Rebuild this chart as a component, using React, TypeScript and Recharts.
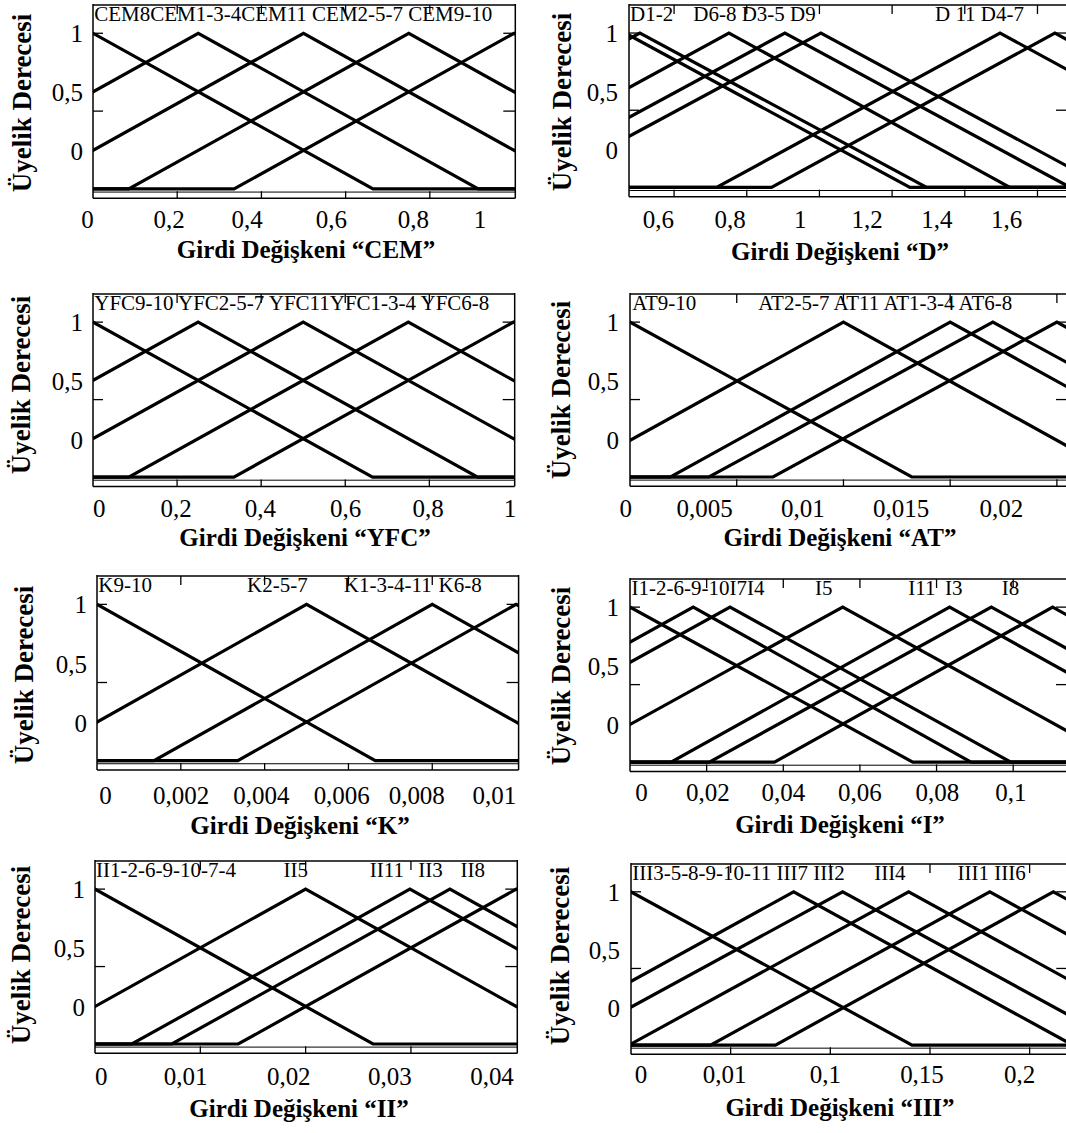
import React from 'react';
import { LineChart, Line, XAxis, YAxis, ReferenceLine } from 'recharts';

type Tri = [number, number, number];

// ---------- shared membership (y) axis ----------
const yDomain: [number, number] = [-0.06, 1.188];
const yTicks = [0, 0.5, 1];
const yTickLabels = ['1', '0,5', '0'];
const yTickLabelAt = [1, 0.62, 0.24];
const baseRuleY = -0.02;

// ---------- CEM ----------
const cemDomain: [number, number] = [0, 1.003];
const cemTicks = [0.2, 0.4, 0.6, 0.8];
const cemTickLabels = ['0', '0,2', '0,4', '0,6', '0,8', '1'];
const cemTickLabelAt = [-0.013, 0.181, 0.366, 0.566, 0.761, 0.919];
const cemSetNames = ['CEM8', 'CEM1-3-4', 'CEM11', 'CEM2-5-7', 'CEM9-10'];
const cemSets: Tri[] = [
  [-0.665, 0, 0.665],
  [-0.415, 0.25, 0.915],
  [-0.165, 0.5, 1.165],
  [0.085, 0.75, 1.415],
  [0.335, 1.0, 1.665],
];
const cemLegend = ['CEM8CEM1-3-4CEM11 CEM2-5-7 CEM9-10'];
const cemLegendAt = [0.003];

// ---------- D ----------
const dDomain: [number, number] = [0.476, 1.684];
const dTicks = [0.6, 0.8, 1.0, 1.2, 1.4, 1.6];
const dTickLabels = ['0,6', '0,8', '1', '1,2', '1,4', '1,6'];
const dTickLabelAt = [0.557, 0.754, 0.947, 1.131, 1.323, 1.515];
const dSetNames = ['D1', 'D2', 'D6-8', 'D3-5', 'D9', 'D11', 'D4-7'];
const dSets: Tri[] = [
  [-0.32, 0.465, 1.249],
  [-0.283, 0.506, 1.295],
  [-0.027, 0.751, 1.524],
  [0.12, 0.905, 1.69],
  [0.215, 1.004, 1.79],
  [0.717, 1.497, 2.277],
  [0.868, 1.648, 2.43],
];
const dLegend = ['D1-2', 'D6-8 D3-5 D9', 'D 11 D4-7'];
const dLegendAt = [0.479, 0.653, 1.318];

// ---------- YFC ----------
const yfcDomain: [number, number] = [0, 1.003];
const yfcTicks = [0.2, 0.4, 0.6, 0.8];
const yfcTickLabels = ['0', '0,2', '0,4', '0,6', '0,8', '1'];
const yfcTickLabelAt = [0.015, 0.198, 0.398, 0.601, 0.797, 0.992];
const yfcSetNames = ['YFC9-10', 'YFC2-5-7', 'YFC11', 'YFC1-3-4', 'YFC6-8'];
const yfcSets: Tri[] = [
  [-0.665, 0, 0.665],
  [-0.415, 0.25, 0.915],
  [-0.165, 0.5, 1.165],
  [0.085, 0.75, 1.415],
  [0.335, 1.0, 1.665],
];
const yfcLegend = ['YFC9-10 YFC2-5-7 YFC11YFC1-3-4 YFC6-8'];
const yfcLegendAt = [0.003];

// ---------- AT ----------
const atDomain: [number, number] = [0, 0.02052];
const atTicks = [0.005, 0.01, 0.015, 0.02];
const atTickLabels = ['0', '0,005', '0,01', '0,015', '0,02'];
const atTickLabelAt = [-0.0002, 0.0035, 0.0081, 0.0127, 0.0174];
const atSetNames = ['AT9-10', 'AT2-5-7', 'AT11', 'AT1-3-4', 'AT6-8'];
const atSets: Tri[] = [
  [-0.0132, 0, 0.0132],
  [-0.0031, 0.01, 0.0231],
  [0.0019, 0.015, 0.0281],
  [0.0037, 0.017, 0.0303],
  [0.0067, 0.02, 0.0333],
];
const atLegend = ['AT9-10', 'AT2-5-7 AT11 AT1-3-4 AT6-8'];
const atLegendAt = [0.0001, 0.00601];

// ---------- K ----------
const kDomain: [number, number] = [0, 0.01006];
const kTicks = [0.002, 0.004, 0.006, 0.008];
const kTickLabels = ['0', '0,002', '0,004', '0,006', '0,008', '0,01'];
const kTickLabelAt = [0.0002, 0.00201, 0.00392, 0.00584, 0.00763, 0.00948];
const kSetNames = ['K9-10', 'K2-5-7', 'K1-3-4-11', 'K6-8'];
const kSets: Tri[] = [
  [-0.00664, 0, 0.00664],
  [-0.00164, 0.005, 0.01164],
  [0.00136, 0.008, 0.01464],
  [0.00336, 0.01, 0.01664],
];
const kLegend = ['K9-10', 'K2-5-7', 'K1-3-4-11', 'K6-8'];
const kLegendAt = [0.00003, 0.00358, 0.00589, 0.00815];

// ---------- I ----------
const iDomain: [number, number] = [0, 0.1143];
const iTicks = [0.02, 0.04, 0.06, 0.08, 0.1];
const iTickLabels = ['0', '0,02', '0,04', '0,06', '0,08', '0,1'];
const iTickLabelAt = [0.003, 0.0203, 0.04, 0.06, 0.0802, 0.0994];
const iSetNames = ['I1-2-6-9-10', 'I7', 'I4', 'I5', 'I11', 'I3', 'I8'];
const iSets: Tri[] = [
  [-0.0738, 0, 0.0738],
  [-0.0565, 0.0165, 0.089],
  [-0.0472, 0.0261, 0.0994],
  [-0.0178, 0.0555, 0.1288],
  [0.0107, 0.0834, 0.1561],
  [0.0207, 0.0943, 0.1679],
  [0.0377, 0.1103, 0.1837],
];
const iLegend = ['I1-2-6-9-10I7I4', 'I5', 'I11', 'I3', 'I8'];
const iLegendAt = [0.0004, 0.0483, 0.0726, 0.0822, 0.097];

// ---------- II ----------
const iiDomain: [number, number] = [0, 0.0401];
const iiTicks = [0.01, 0.02, 0.03];
const iiTickLabels = ['0', '0,01', '0,02', '0,03', '0,04'];
const iiTickLabelAt = [0.0006, 0.0086, 0.0184, 0.028, 0.0377];
const iiSetNames = ['II1-2-6-9-10-7-4', 'II5', 'II11', 'II3', 'II8'];
const iiSets: Tri[] = [
  [-0.0264, 0, 0.0264],
  [-0.0064, 0.02, 0.0464],
  [0.0035, 0.0299, 0.0563],
  [0.0073, 0.0337, 0.0601],
  [0.0136, 0.04, 0.0664],
];
const iiLegend = ['II1-2-6-9-10-7-4', 'II5', 'II11', 'II3', 'II8'];
const iiLegendAt = [0.0001, 0.0179, 0.0261, 0.0307, 0.0347];

// ---------- III ----------
const iiiDomain: [number, number] = [0, 0.2194];
const iiiTicks = [0.05, 0.1, 0.15, 0.2];
const iiiTickLabels = ['0', '0,01', '0,1', '0,15', '0,2'];
const iiiTickLabelAt = [0.005, 0.047, 0.0975, 0.146, 0.195];
const iiiSetNames = ['III3-5-8-9-10-11', 'III7', 'III2', 'III4', 'III1', 'III6'];
const iiiSets: Tri[] = [
  [-0.141, 0, 0.141],
  [-0.058, 0.0816, 0.2216],
  [-0.035, 0.1062, 0.2472],
  [-0.001, 0.1393, 0.2793],
  [0.0399, 0.18, 0.32],
  [0.0725, 0.2119, 0.3519],
];
const iiiLegend = ['III3-5-8-9-10-11 III7 III2', 'III4', 'III1 III6'];
const iiiLegendAt = [0.0006, 0.122, 0.1638];

// ---------- layout ----------
type Box = { left: number; top: number; right: number; bottom: number };
type PanelCfg = {
  variable: string;
  plot: Box;
  domain: [number, number];
  ticks: number[];
  tickLabels: string[];
  tickLabelAt: number[];
  sets: Tri[];
  setNames: string[];
  legend: string[];
  legendAt: number[];
  titleX: number;
  titleCapTop: number;
  yTitleX: number;
  yTitleY: number;
  labelWidth: number;
  yLabelGap: number;
  xLabelGap: number;
};

const FONT = "'Liberation Serif', 'Times New Roman', serif";
const TICK_FONT = 25;
const LEGEND_FONT = 21;
const TITLE_FONT = 25;
const YTITLE_FONT = 27;

const panels: PanelCfg[] = [
  { variable: 'CEM', plot: { left: 92.7, top: 4, right: 515, bottom: 198.3 }, domain: cemDomain, ticks: cemTicks, tickLabels: cemTickLabels, tickLabelAt: cemTickLabelAt, sets: cemSets, setNames: cemSetNames, legend: cemLegend, legendAt: cemLegendAt, titleX: 306, titleCapTop: 241, yTitleX: 22, yTitleY: 103, labelWidth: 86, yLabelGap: 10, xLabelGap: 12 },
  { variable: 'D', plot: { left: 629, top: 4, right: 1068, bottom: 196.7 }, domain: dDomain, ticks: dTicks, tickLabels: dTickLabels, tickLabelAt: dTickLabelAt, sets: dSets, setNames: dSetNames, legend: dLegend, legendAt: dLegendAt, titleX: 840, titleCapTop: 243, yTitleX: 562, yTitleY: 102, labelWidth: 66, yLabelGap: 11, xLabelGap: 13.5 },
  { variable: 'YFC', plot: { left: 93.3, top: 293.3, right: 515, bottom: 486.7 }, domain: yfcDomain, ticks: yfcTicks, tickLabels: yfcTickLabels, tickLabelAt: yfcTickLabelAt, sets: yfcSets, setNames: yfcSetNames, legend: yfcLegend, legendAt: yfcLegendAt, titleX: 305, titleCapTop: 529, yTitleX: 21, yTitleY: 385, labelWidth: 86, yLabelGap: 10, xLabelGap: 13 },
  { variable: 'AT', plot: { left: 630, top: 292.7, right: 1068, bottom: 486 }, domain: atDomain, ticks: atTicks, tickLabels: atTickLabels, tickLabelAt: atTickLabelAt, sets: atSets, setNames: atSetNames, legend: atLegend, legendAt: atLegendAt, titleX: 840, titleCapTop: 529, yTitleX: 561, yTitleY: 390, labelWidth: 66, yLabelGap: 11, xLabelGap: 13 },
  { variable: 'K', plot: { left: 96.7, top: 575, right: 518.3, bottom: 770 }, domain: kDomain, ticks: kTicks, tickLabels: kTickLabels, tickLabelAt: kTickLabelAt, sets: kSets, setNames: kSetNames, legend: kLegend, legendAt: kLegendAt, titleX: 300, titleCapTop: 817, yTitleX: 24, yTitleY: 675, labelWidth: 90, yLabelGap: 10, xLabelGap: 16 },
  { variable: 'I', plot: { left: 630, top: 578.3, right: 1068, bottom: 771.7 }, domain: iDomain, ticks: iTicks, tickLabels: iTickLabels, tickLabelAt: iTickLabelAt, sets: iSets, setNames: iSetNames, legend: iLegend, legendAt: iLegendAt, titleX: 840, titleCapTop: 816, yTitleX: 561, yTitleY: 676, labelWidth: 66, yLabelGap: 11, xLabelGap: 12 },
  { variable: 'II', plot: { left: 95, top: 860, right: 517.3, bottom: 1053.3 }, domain: iiDomain, ticks: iiTicks, tickLabels: iiTickLabels, tickLabelAt: iiTickLabelAt, sets: iiSets, setNames: iiSetNames, legend: iiLegend, legendAt: iiLegendAt, titleX: 299, titleCapTop: 1100, yTitleX: 21, yTitleY: 955, labelWidth: 88, yLabelGap: 10, xLabelGap: 14 },
  { variable: 'III', plot: { left: 630.7, top: 862.7, right: 1068, bottom: 1054 }, domain: iiiDomain, ticks: iiiTicks, tickLabels: iiiTickLabels, tickLabelAt: iiiTickLabelAt, sets: iiiSets, setNames: iiiSetNames, legend: iiiLegend, legendAt: iiiLegendAt, titleX: 840, titleCapTop: 1099, yTitleX: 560, yTitleY: 956, labelWidth: 66, yLabelGap: 11, xLabelGap: 11 },
];

// membership function evaluated at its own breakpoints (plus flat zero parts)
function mfPoints(tri: Tri, lo: number, hi: number) {
  const [a, b, c] = tri;
  const pts: { x: number; y: number }[] = [];
  if (lo < a) pts.push({ x: lo, y: 0 });
  pts.push({ x: a, y: 0 }, { x: b, y: 1 }, { x: c, y: 0 });
  if (hi > c) pts.push({ x: hi, y: 0 });
  return pts;
}

function lookup(values: number[], texts: string[]) {
  return (v: number, i: number) => {
    const k = values.indexOf(v);
    return k >= 0 ? texts[k] : texts[i] ?? '';
  };
}

const NoTick = () => <g />;
const frame = { stroke: '#000', strokeWidth: 1.5 };
const tickStroke = { stroke: '#000', strokeWidth: 1.3 };

function Panel({ cfg }: { cfg: PanelCfg }) {
  const MT = 3;
  const MR = 3;
  const MB = 40;
  const ML = cfg.labelWidth;
  const plotW = cfg.plot.right - cfg.plot.left;
  const plotH = cfg.plot.bottom - cfg.plot.top;
  const width = ML + plotW + MR;
  const height = MT + plotH + MB;
  const left = cfg.plot.left - ML;
  const top = cfg.plot.top - MT;
  const [lo, hi] = cfg.domain;
  return (
    <>
      <div style={{ position: 'absolute', left, top, width, height }}>
        <LineChart width={width} height={height} margin={{ top: MT, right: MR, bottom: 0, left: 0 }}>
          <XAxis
            xAxisId="x"
            orientation="bottom"
            mirror
            height={1}
            type="number"
            dataKey="x"
            domain={cfg.domain}
            allowDataOverflow
            ticks={cfg.ticks}
            interval={0}
            tick={NoTick}
            tickSize={7}
            stroke="#000"
            axisLine={frame}
            tickLine={tickStroke}
          />
          <XAxis
            xAxisId="xt"
            orientation="top"
            mirror
            height={1}
            type="number"
            dataKey="x"
            domain={cfg.domain}
            allowDataOverflow
            ticks={cfg.ticks}
            interval={0}
            tick={NoTick}
            tickSize={9}
            stroke="#000"
            axisLine={frame}
            tickLine={tickStroke}
          />
          <XAxis
            xAxisId="xn"
            orientation="top"
            mirror
            height={1}
            type="number"
            dataKey="x"
            domain={cfg.domain}
            allowDataOverflow
            ticks={cfg.legendAt}
            interval={0}
            tickFormatter={lookup(cfg.legendAt, cfg.legend)}
            tickLine={false}
            axisLine={false}
            tickSize={2}
            tickMargin={0}
            stroke="#000"
            tick={{ textAnchor: 'start', fontSize: LEGEND_FONT, fill: '#000' }}
          />
          <XAxis
            xAxisId="xl"
            orientation="bottom"
            height={MB}
            type="number"
            dataKey="x"
            domain={cfg.domain}
            allowDataOverflow
            ticks={cfg.tickLabelAt}
            interval={0}
            tickFormatter={lookup(cfg.tickLabelAt, cfg.tickLabels)}
            tickLine={false}
            axisLine={false}
            tickSize={0}
            tickMargin={cfg.xLabelGap}
            stroke="#000"
            tick={{ fontSize: TICK_FONT, fill: '#000' }}
          />
          <YAxis
            yAxisId="y"
            orientation="left"
            mirror
            width={1}
            type="number"
            domain={yDomain}
            allowDataOverflow
            ticks={yTicks}
            interval={0}
            tick={NoTick}
            tickSize={10}
            stroke="#000"
            axisLine={frame}
            tickLine={tickStroke}
          />
          <YAxis
            yAxisId="yr"
            orientation="right"
            mirror
            width={1}
            type="number"
            domain={yDomain}
            allowDataOverflow
            ticks={yTicks}
            interval={0}
            tick={NoTick}
            tickSize={12}
            stroke="#000"
            axisLine={frame}
            tickLine={tickStroke}
          />
          <YAxis
            yAxisId="yl"
            orientation="left"
            width={ML}
            type="number"
            domain={yDomain}
            allowDataOverflow
            ticks={yTickLabelAt}
            interval={0}
            tickFormatter={lookup(yTickLabelAt, yTickLabels)}
            tickLine={false}
            axisLine={false}
            tickSize={0}
            tickMargin={cfg.yLabelGap}
            stroke="#000"
            tick={{ fontSize: TICK_FONT, fill: '#000' }}
          />
          <ReferenceLine xAxisId="x" yAxisId="y" y={baseRuleY} stroke="#000" strokeWidth={1} />
          {cfg.sets.map((tri, i) => (
            <Line
              key={cfg.setNames[i]}
              name={cfg.setNames[i]}
              xAxisId="x"
              yAxisId="y"
              data={mfPoints(tri, lo, hi)}
              dataKey="y"
              type="linear"
              stroke="#000"
              strokeWidth={3.2}
              dot={false}
              activeDot={false}
              isAnimationActive={false}
            />
          ))}
        </LineChart>
      </div>
      <div
        style={{
          position: 'absolute',
          left: cfg.titleX,
          top: cfg.titleCapTop - 0.1755 * TITLE_FONT,
          transform: 'translateX(-50%)',
          whiteSpace: 'nowrap',
          fontWeight: 'bold',
          fontSize: TITLE_FONT,
          lineHeight: 1,
        }}
      >
        {`Girdi Değişkeni “${cfg.variable}”`}
      </div>
      <div
        style={{
          position: 'absolute',
          left: cfg.yTitleX,
          top: cfg.yTitleY,
          transform: 'translate(-50%, -50%) rotate(-90deg)',
          whiteSpace: 'nowrap',
          fontWeight: 'bold',
          fontSize: YTITLE_FONT,
          lineHeight: 1,
        }}
      >
        Üyelik Derecesi
      </div>
    </>
  );
}

export default function App() {
  return (
    <div
      style={{
        position: 'absolute',
        left: 0,
        top: 0,
        width: 1066,
        height: 1133,
        overflow: 'hidden',
        background: '#fff',
        fontFamily: FONT,
        color: '#000',
      }}
    >
      {panels.map((p) => (
        <Panel key={p.variable} cfg={p} />
      ))}
    </div>
  );
}
